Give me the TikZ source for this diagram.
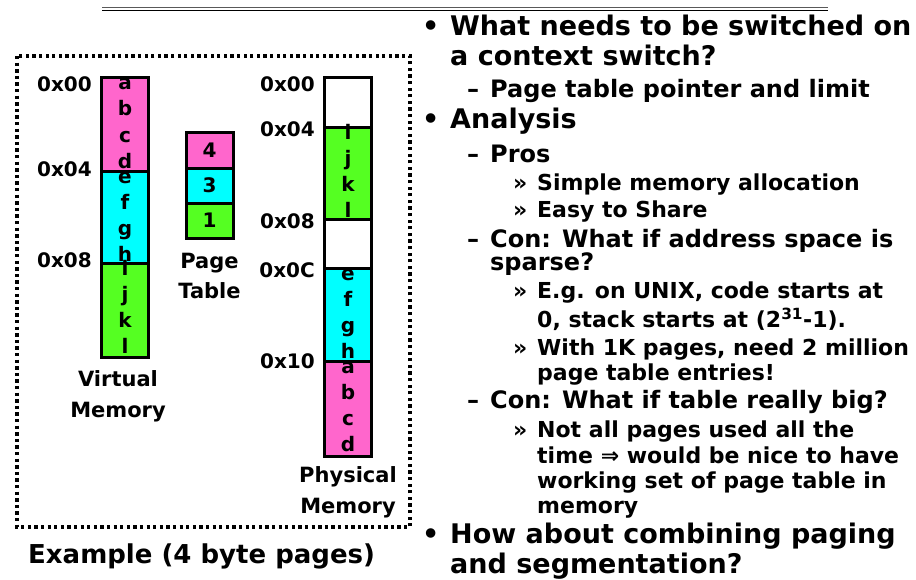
\documentclass[tikz,border=0pt]{standalone}
\usepackage{fontspec}
\setmainfont{DejaVu Sans}
\definecolor{pagepink}{RGB}{255,102,204}
\definecolor{pagecyan}{RGB}{0,255,255}
\definecolor{pagegreen}{RGB}{85,255,34}
\newcommand{\fs}[1]{\fontsize{#1}{#1}\selectfont\bfseries}
\tikzset{
  cell/.style={draw,line width=3pt,minimum width=47pt,inner sep=0pt,font=\fs{20}},
  ltr/.style={anchor=base,inner sep=0pt,font=\fs{20}},
  addr/.style={anchor=base east,inner sep=0pt,font=\fs{20}},
  memlabel/.style={anchor=base,inner sep=0pt,font=\fs{21}},
  lvla/.style={anchor=base west,inner sep=0pt,font=\fs{27}},
  lvlb/.style={anchor=base west,inner sep=0pt,font=\fs{24}},
  lvlc/.style={anchor=base west,inner sep=0pt,font=\fs{22}}
}
\begin{document}
\begin{tikzpicture}[x=1pt,y=-1pt]
  \useasboundingbox (0,0) rectangle (916,579);
  % top rule
  \draw[line width=1.3pt,black!65] (102,7.5) -- (828,7.5);
  \draw[line width=1.1pt] (102,10.5) -- (828,10.5);
  % example frame
  \draw[line width=3.3pt,dash pattern=on 3.3pt off 3.3pt] (17,56) rectangle (410,527);

  % virtual memory
  \draw
    (125,124) node[cell,fill=pagepink,minimum height=94pt] (v1){}
    (125,217) node[cell,fill=pagecyan,minimum height=92pt] (v2){}
    (125,310) node[cell,fill=pagegreen,minimum height=94pt] (v3){};
  \foreach \l/\y in {a/89,b/115,c/142,d/168,e/183,f/209,g/235,h/261,i/275,j/301,k/327,l/353}
    \node[ltr] (v\l) at (125,\y) {\l};
  \draw
    (92,91) node[addr] (va0){0x00}
    (92,176) node[addr] (va4){0x04}
    (92,267) node[addr] (va8){0x08}
    (118,386) node[memlabel] (vcap1){Virtual}
    (118,417) node[memlabel] (vcap2){Memory};

  % page table
  \draw
    (209.5,150) node[cell,fill=pagepink,minimum height=36pt] (pt4){4}
    (209.5,185.5) node[cell,fill=pagecyan,minimum height=35pt] (pt3){3}
    (209.5,220.5) node[cell,fill=pagegreen,minimum height=35pt] (pt1){1}
    (209.5,268) node[memlabel] (ptcap1){Page}
    (209.5,298) node[memlabel] (ptcap2){Table};

  % physical memory
  \draw
    (348,102) node[cell,fill=white,minimum height=50pt] (p0){}
    (348,173) node[cell,fill=pagegreen,minimum height=92pt] (p1){}
    (348,243.5) node[cell,fill=white,minimum height=49pt] (p2){}
    (348,314.5) node[cell,fill=pagecyan,minimum height=93pt] (p3){}
    (348,408.5) node[cell,fill=pagepink,minimum height=95pt] (p4){};
  \foreach \l/\y in {i/139,j/165,k/191,l/217,e/280,f/306,g/332,h/358,a/373,b/399,c/425,d/451}
    \node[ltr] (p\l) at (348,\y) {\l};
  \draw
    (315,91) node[addr] (pa0){0x00}
    (315,136) node[addr] (pa4){0x04}
    (315,228) node[addr] (pa8){0x08}
    (315,277) node[addr] (paC){0x0C}
    (315,368) node[addr] (pa10){0x10}
    (348,482) node[memlabel] (pcap1){Physical}
    (348,513) node[memlabel] (pcap2){Memory};

  \node[anchor=base west,inner sep=0pt,font=\fs{26}] (title) at (28,563) {Example (4 byte pages)};

  % bullets
  \draw
    (422,35) node[lvla] (b1){•}
    (422,128) node[lvla] (b2){•}
    (422,543) node[lvla] (b3){•}
    (467,97) node[lvlb] (d1){–}
    (467,162) node[lvlb] (d2){–}
    (467,247) node[lvlb] (d3){–}
    (467,408) node[lvlb] (d4){–}
    (513,190) node[lvlc] (r1){»}
    (513,217) node[lvlc] (r2){»}
    (513,298) node[lvlc] (r3){»}
    (513,355) node[lvlc] (r4){»}
    (513,437) node[lvlc] (r5){»};
  \draw
    (450,35) node[lvla] (t1){What needs to be switched on}
    (450,65) node[lvla] (t2){a context switch?}
    (490,97) node[lvlb] (t3){Page table pointer and limit}
    (450,128) node[lvla] (t4){Analysis}
    (490,162) node[lvlb] (t5){Pros}
    (537,190) node[lvlc] (t6){Simple memory allocation}
    (537,217) node[lvlc] (t7){Easy to Share}
    (490,247) node[lvlb] (t8){Con: What if address space is}
    (490,270) node[lvlb] (t9){sparse?}
    (537,298) node[lvlc] (t10){E.g. on UNIX, code starts at}
    (537,327) node[lvlc] (t11){0, stack starts at (2\textsuperscript{31}-1).}
    (537,355) node[lvlc] (t12){With 1K pages, need 2 million}
    (537,380) node[lvlc] (t13){page table entries!}
    (490,408) node[lvlb] (t14){Con: What if table really big?}
    (537,437) node[lvlc] (t15){Not all pages used all the}
    (537,463) node[lvlc] (t16){time ⇒ would be nice to have}
    (537,488) node[lvlc] (t17){working set of page table in}
    (537,513) node[lvlc] (t18){memory}
    (450,543) node[lvla] (t19){How about combining paging}
    (450,573) node[lvla] (t20){and segmentation?};
\end{tikzpicture}
\end{document}
